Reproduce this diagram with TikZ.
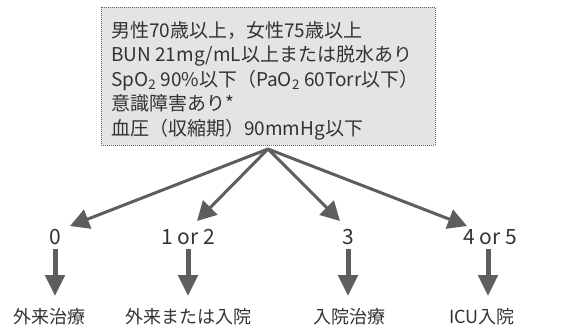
\documentclass[tikz,border=0pt]{standalone}
\usepackage{fontspec}
\setmainfont{Noto Sans CJK JP}
\usetikzlibrary{arrows.meta}
\definecolor{arrowgray}{HTML}{5E5E5E}
\definecolor{boxfill}{HTML}{E4E4E4}
\definecolor{txt}{HTML}{333333}
\tikzset{
  crit/.style={draw=arrowgray, densely dotted, line width=1pt, fill=boxfill},
  line/.style={anchor=base west, text=txt, inner sep=0pt, font=\fontsize{19}{22}\selectfont},
  score/.style={font=\fontsize{21}{23}\selectfont, text=txt, inner sep=0pt},
  result/.style={font=\fontsize{18}{20}\selectfont, text=txt, inner sep=0pt},
  branch/.style={draw=arrowgray, line width=3pt, -{Triangle[width=20pt,length=19pt]}},
  down/.style={draw=arrowgray, line width=5pt, -{Triangle[width=19pt,length=21pt]}}
}
\begin{document}
\begin{tikzpicture}[x=1pt,y=-1pt]
\useasboundingbox (0,0) rectangle (578,335);
\draw[crit] (101,7) rectangle (435,145);
\node[line] (c1) at (111,37) {男性70歳以上，女性75歳以上};
\node[line] (c2) at (111,61.5) {BUN 21mg/mL以上または脱水あり};
\node[line] (c3) at (111,86) {SpO\textsubscript{2} 90\%以下（PaO\textsubscript{2} 60Torr以下）};
\node[line] (c4) at (111,110.5) {意識障害あり*};
\node[line] (c5) at (111,135) {血圧（収縮期）90mmHg以下};
\coordinate (src) at (268,149);
\coordinate (t0) at (70,226);
\coordinate (t1) at (197,221);
\coordinate (t2) at (340,221);
\coordinate (t3) at (467,226);
\draw[branch] (src) -- (t0);
\draw[branch] (src) -- (t1);
\draw[branch] (src) -- (t2);
\draw[branch] (src) -- (t3);
\node[score] (s0) at (55,237) {0};
\node[score] (s1) at (188,237) {1 or 2};
\node[score] (s2) at (348,237) {3};
\node[score] (s3) at (490,237) {4 or 5};
\node[result] (r0) at (49,317) {外来治療};
\node[result] (r1) at (188,317) {外来または入院};
\node[result] (r2) at (349,317) {入院治療};
\node[result] (r3) at (482,317) {ICU入院};
\draw[down] (55,249) -- (55,296);
\draw[down] (188,249) -- (188,296);
\draw[down] (348,249) -- (348,296);
\draw[down] (488,249) -- (488,296);
\end{tikzpicture}
\end{document}
